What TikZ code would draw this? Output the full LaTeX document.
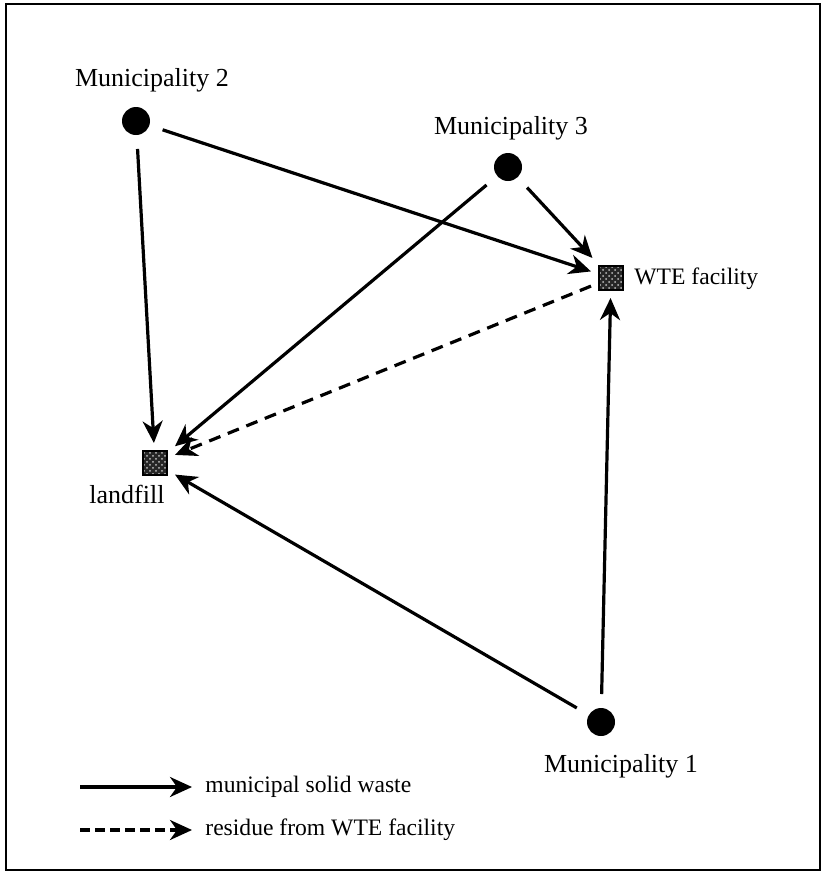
\documentclass[tikz,border=0pt]{standalone}
\usepackage{fontspec}
\setmainfont{Liberation Serif}
\usetikzlibrary{arrows.meta,patterns}
\begin{document}
\begin{tikzpicture}[x=0.5pt,y=-0.5pt,
  town/.style={circle,fill=black,inner sep=0pt,minimum size=14pt,outer sep=7pt},
  site/.style={rectangle,draw=black,line width=1.4pt,
    preaction={fill=black!85},pattern=crosshatch dots,pattern color=white!75!black,
    inner sep=0pt,minimum size=12pt,outer sep=4pt},
  lbl/.style={font=\fontsize{13}{15}\selectfont,inner sep=0pt},
  small/.style={font=\fontsize{11.8}{14}\selectfont,inner sep=0pt},
  flow/.style={line width=1.6pt,-{Stealth[length=11pt,width=10pt,inset=3.5pt]}},
  residue/.style={flow,dash pattern=on 6pt off 4pt}]
\useasboundingbox (0,0) rectangle (823,873);
\draw[line width=1pt] (6,4) rectangle (820,870);

% sources and destinations
\node[town] (m2) at (136,121) {};
\node[town] (m3) at (508,167) {};
\node[town] (m1) at (601,722) {};
\node[site] (wte) at (611,278) {};
\node[site] (fill) at (155,463) {};

% labels
\node[lbl] (m2l) at (152,80) {Municipality 2};
\node[lbl] (m3l) at (511,128) {Municipality 3};
\node[lbl] (m1l) at (621,766) {Municipality 1};
\node[small,anchor=west] (wtel) at (634,279) {WTE facility};
\node[lbl] (filll) at (127,494) {landfill};

% waste flows
\draw[flow] (m2) -- (fill);
\draw[flow] (m2) -- (wte);
\draw[flow] (m3) -- (fill);
\draw[flow] (m3) -- (wte);
\draw[flow] (m1) -- (wte);
\draw[flow] (m1) -- (fill);
\draw[residue] (wte) -- (fill);

% legend
\coordinate (a1) at (80,787);
\coordinate (b1) at (192,787);
\coordinate (a2) at (80,830);
\coordinate (b2) at (192,830);
\draw[flow] (a1) -- (b1);
\draw[residue,dash pattern=on 5pt off 2.5pt] (a2) -- (b2);
\node[small,anchor=west] (k1) at (205,787) {municipal solid waste};
\node[small,anchor=west] (k2) at (205,830) {residue from WTE facility};
\end{tikzpicture}
\end{document}
